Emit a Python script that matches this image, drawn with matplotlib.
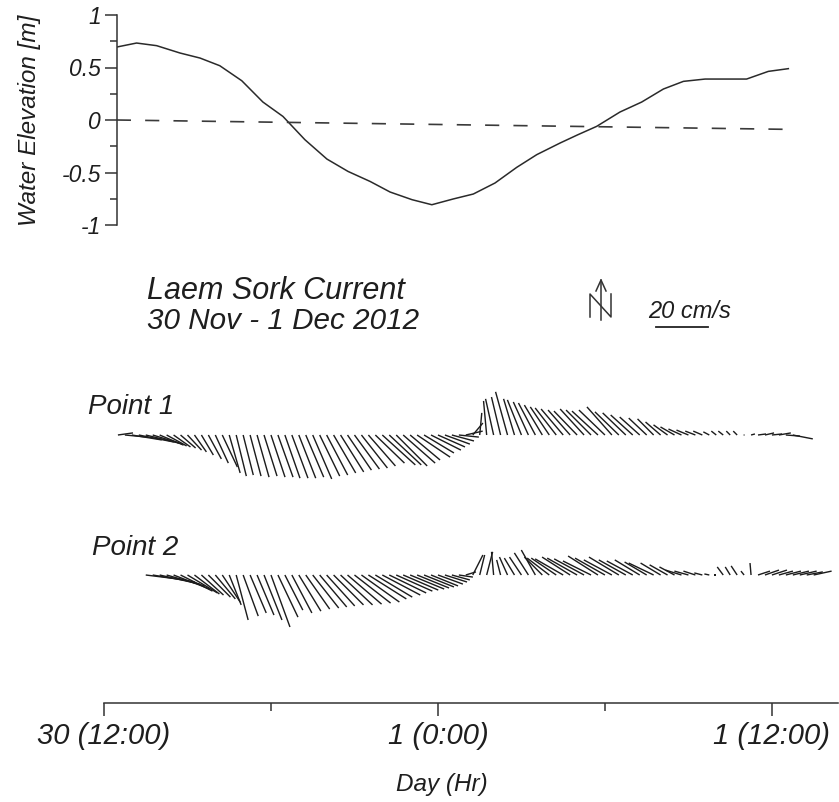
import numpy as np
import matplotlib
matplotlib.use("Agg")
from matplotlib import pyplot as plt

# Water elevation, hours after 30 Nov 12:00 -> metres
wl_hours = [0.46, 1.17, 1.89, 2.73, 3.45, 4.16, 4.95, 5.71, 6.43, 7.22, 8.01,
            8.77, 9.56, 10.28, 11.07, 11.78, 12.55, 13.27, 14.05, 14.83, 15.55,
            16.39, 17.03, 17.70, 18.54, 19.32, 20.10, 20.82, 21.60, 22.35,
            23.09, 23.87, 24.59]
wl_level = [0.695, 0.733, 0.708, 0.638, 0.59, 0.517, 0.374, 0.171, 0.034,
            -0.188, -0.372, -0.49, -0.585, -0.686, -0.759, -0.807, -0.752,
            -0.705, -0.6, -0.451, -0.33, -0.219, -0.14, -0.061, 0.076, 0.171,
            0.295, 0.368, 0.39, 0.39, 0.39, 0.463, 0.489]
ref_hours = [0.46, 24.8]
ref_level = [0.0, -0.09]

# Currents every 15 min (cm/s, u = east, v = north)
step = 0.25
p1_start = 0.5
p1_u = [5.8, 8.5, 11.5, 13.5, 12.7, 11.5, 9.2, 7.7, 6.5, 5.8,
        5.4, 4.6, 4.6, 5.0, 5.0, 5.8, 4.2, 3.9, 3.9, 4.2,
        4.6, 5.0, 5.4, 5.8, 5.8, 6.2, 6.5, 6.9, 7.3, 7.7,
        8.1, 8.5, 8.9, 9.2, 9.6, 10.0, 10.4, 11.2, 12.7, 12.3,
        11.9, 12.3, 11.5, 12.7, 11.5, 11.5, 10.4, 9.6, 8.5, 7.7,
        6.5, 3.9, 0.8, -1.2, -3.1, -3.5, -4.6, -4.2, -5.4, -5.8,
        -6.5, -6.9, -7.3, -8.1, -8.5, -8.5, -8.9, -9.2, -9.6, -10.0,
        -10.0, -9.6, -9.2, -8.9, -8.5, -7.7, -6.9, -6.2, -5.8, -5.4,
        -5.4, -5.0, -4.6, -3.9, -3.5, -2.3, -1.9, -1.9, -1.5, -1.5,
        0.0, 1.5, 3.1, 3.5, 3.9, 4.6, 5.4, 7.7]
p1_v = [0.8, -0.8, -1.9, -2.7, -3.1, -3.5, -3.9, -4.2, -4.6, -5.0,
        -5.8, -6.5, -7.7, -9.2, -10.8, -12.3, -14.6, -15.8, -15.4, -15.8,
        -16.2, -15.8, -16.2, -16.2, -16.6, -16.6, -16.6, -16.2, -16.9, -15.8,
        -15.4, -14.6, -14.2, -13.5, -13.1, -12.7, -11.9, -10.8, -11.5, -11.5,
        -11.9, -10.8, -9.6, -8.5, -6.9, -5.8, -4.6, -3.5, -2.3, -0.8,
        1.5, 4.6, 8.5, 13.1, 13.9, 14.6, 16.6, 13.9, 13.5, 12.7,
        12.3, 11.5, 10.8, 10.4, 10.0, 9.6, 9.2, 10.0, 9.6, 9.2,
        9.6, 10.8, 8.9, 8.5, 7.7, 6.9, 6.5, 6.2, 5.0, 3.9,
        3.1, 2.3, 1.9, 1.5, 1.5, 1.2, 1.5, 1.5, 1.5, 1.5,
        0.4, 0.4, 0.4, 0.8, 0.4, 0.8, -0.4, -1.5]

p2_start = 1.5
p2_u = [15.4, 16.2, 15.4, 14.6, 13.9, 12.3, 11.5, 9.6, 8.5, 8.5,
        7.7, 6.9, 4.6, 4.6, 5.8, 6.2, 6.5, 6.9, 7.3, 7.7,
        6.9, 7.7, 8.5, 9.2, 10.0, 10.4, 10.8, 11.5, 12.3, 13.1,
        13.9, 14.6, 14.6, 14.2, 14.6, 14.2, 13.9, 13.5, 13.1, 12.3,
        11.5, 10.4, 9.6, 8.5, 6.9, 5.4, 3.9, 3.9, 1.9, 2.3,
        -0.8, -1.5, -3.1, -3.9, -4.6, -5.4, -5.4, -6.9, -8.5, -9.6,
        -10.8, -10.8, -11.5, -11.5, -10.8, -11.5, -11.5, -10.8, -11.5, -10.4,
        -10.0, -9.6, -8.5, -9.6, -7.7, -6.9, -5.8, -6.2, -5.4, -4.6,
        -3.1, -1.9, -0.8, -2.3, -1.9, -2.3, -1.2, -0.4, 4.6, 5.4,
        5.8, 5.4, 5.8, 6.2, 6.5, 6.2, 6.9]
p2_v = [-1.9, -2.7, -3.5, -4.2, -5.4, -6.2, -6.9, -7.3, -7.7, -8.5,
        -9.2, -10.4, -11.5, -17.3, -15.8, -14.6, -15.4, -17.3, -20.0, -16.2,
        -13.5, -14.6, -13.9, -13.1, -12.7, -12.3, -11.9, -11.5, -11.5, -11.2,
        -10.8, -10.4, -9.2, -8.5, -7.7, -6.9, -6.2, -5.8, -5.4, -5.0,
        -4.6, -4.2, -3.5, -2.7, -1.9, -0.8, 1.2, 7.7, 7.7, 8.9,
        8.9, 5.8, 6.9, 6.5, 6.9, 8.5, 9.6, 6.9, 6.5, 6.5,
        6.2, 6.9, 6.5, 6.2, 5.4, 7.3, 6.5, 5.8, 6.9, 5.8,
        5.4, 5.8, 5.0, 4.6, 4.6, 3.9, 3.1, 1.9, 1.5, 1.5,
        0.8, 0.4, 0.0, 3.1, 3.1, 3.5, 1.5, 4.6, 1.5, 1.9,
        1.9, 1.5, 1.5, 1.5, 1.5, 1.2, 1.5]

day_ticks = [0, 12, 24]
day_minor = [6, 18]
day_labels = ['30 (12:00)', '1 (0:00)', '1 (12:00)']
elev_ticks = [-1, -0.5, 0, 0.5, 1]
elev_labels = ['-1', '-0.5', '0', '0.5', '1']
elev_minor = [-0.75, -0.25, 0.25, 0.75]
scale_speed = 20  # cm/s for the scale bar

plt.rcParams['font.family'] = ['Liberation Sans', 'DejaVu Sans']
plt.rcParams['font.style'] = 'italic'

W, H = 839, 802
PX_HR = 27.83          # pixels per hour on the time axis
BAR_PX = 52            # pixels for scale_speed
ink = '#1e1e1e'

fig = plt.figure(figsize=(W / 100, H / 100), dpi=100)

# --- water elevation panel
ax1 = fig.add_axes([117 / W, 1 - 225 / H, 697 / W, 210 / H])
ax1.patch.set_alpha(0)
ax1.plot(wl_hours, wl_level, color='#2a2a2a', lw=1.1)
ax1.plot(ref_hours, ref_level, color='#3a3a3a', lw=1.2, ls=(0, (8.5, 8.5)))
ax1.set_xlim(0.467, 0.467 + 697 / PX_HR)
ax1.set_ylim(-1, 1)
for s in ['top', 'right', 'bottom']:
    ax1.spines[s].set_visible(False)
ax1.spines['left'].set_linewidth(1.1)
ax1.spines['left'].set_color('#333333')
ax1.set_xticks([])
ax1.set_yticks(elev_ticks, elev_labels)
ax1.set_yticks(elev_minor, minor=True)
ax1.tick_params(axis='y', which='major', length=8.5, width=1.1, pad=3,
                labelsize=16.5, colors='#333333', labelcolor=ink)
ax1.tick_params(axis='y', which='minor', length=5, width=1.1, colors='#333333')

# --- current stick panel
ax2 = fig.add_axes([104 / W, 1 - 703 / H, 734 / W, 333 / H])
ax2.patch.set_alpha(0)
ax2.set_xlim(0, 734 / PX_HR)
ax2.set_ylim(0, 333)

for start, u, v, base in [(p1_start, p1_u, p1_v, 268), (p2_start, p2_u, p2_v, 128)]:
    t = start + step * np.arange(len(u))
    ax2.quiver(t, np.full(len(t), base), u, v, angles='uv',
               scale_units='dots', scale=scale_speed / BAR_PX, units='dots',
               width=1.4, headwidth=0, headlength=0, headaxislength=0,
               pivot='tail', color='#1c1c1c')

for s in ['top', 'right', 'left']:
    ax2.spines[s].set_visible(False)
ax2.spines['bottom'].set_linewidth(1.1)
ax2.spines['bottom'].set_color('#333333')
ax2.set_yticks([])
ax2.set_xticks(day_ticks, day_labels)
ax2.set_xticks(day_minor, minor=True)
ax2.tick_params(axis='x', which='major', length=9, width=1.1, pad=5,
                labelsize=21, colors='#333333', labelcolor=ink)
ax2.tick_params(axis='x', which='minor', length=6, width=1.1, colors='#333333')

# --- annotations in pixel space
ov = fig.add_axes([0, 0, 1, 1])
ov.set_xlim(0, W)
ov.set_ylim(H, 0)
ov.axis('off')
ov.patch.set_alpha(0)

ov.text(30, 120, 'Water Elevation [m]', rotation=90, ha='center', va='center',
        fontsize=17.5, color=ink)
ov.text(147, 299, 'Laem Sork Current', fontsize=22, color=ink, va='baseline')
ov.text(147, 329, '30 Nov - 1 Dec 2012', fontsize=21.3, color=ink, va='baseline')
ov.text(88, 414, 'Point 1', fontsize=20, color=ink, va='baseline')
ov.text(92, 555, 'Point 2', fontsize=20, color=ink, va='baseline')
ov.text(648, 318, '20 cm/s', fontsize=17, color=ink, va='baseline')
ov.text(442, 791, 'Day (Hr)', fontsize=17.5, color=ink, ha='center', va='baseline')

# north arrow
ov.plot([601, 601], [280, 320], color='#333333', lw=1.1)
ov.plot([596, 601, 606], [291, 280, 291], color='#333333', lw=1.1)
ov.plot([590, 590, 611, 611], [317, 294, 317, 294], color='#333333', lw=1.1)
# scale bar
ov.plot([656, 656 + BAR_PX], [327, 327], color='#222222', lw=1.3)

fig.savefig('out.png', dpi=100)
